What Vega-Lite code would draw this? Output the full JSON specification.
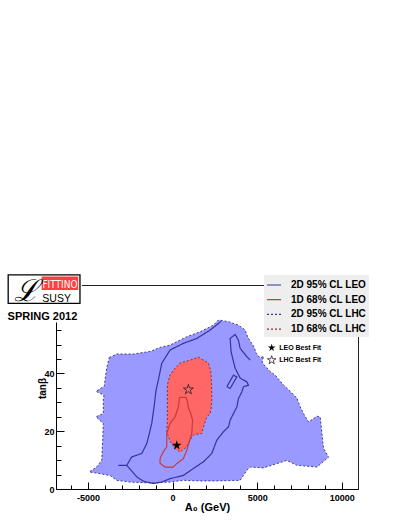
{
  "$schema": "https://vega.github.io/schema/vega-lite/v6.json",
  "width": 302,
  "height": 204,
  "autosize": {"type": "none"},
  "padding": {"left": 56, "top": 285, "right": 49, "bottom": 38},
  "background": "white",
  "config": {"view": {"stroke": "#222", "strokeWidth": 1}, "font": "Liberation Sans", "axis": {"labelOverlap": false, "labelFlush": false, "grid": false}},
  "data": {"values": [{}]},
  "resolve": {"axis": {"x": "independent", "y": "independent"}},
  "datasets": {
    "lhc95": [
      {"i":1,"x":-3740,"y":45.5},{"i":2,"x":-3302,"y":46.7},{"i":3,"x":-2319,"y":46.7},{"i":4,"x":-1331,"y":47.6},
      {"i":5,"x":-740,"y":49.0},{"i":6,"x":-148,"y":49.8},{"i":7,"x":840,"y":52.7},{"i":8,"x":1627,"y":54.4},
      {"i":9,"x":2414,"y":56.7},{"i":10,"x":2710,"y":58.5},{"i":11,"x":3302,"y":57.9},{"i":12,"x":3893,"y":56.7},
      {"i":13,"x":4290,"y":55.0},{"i":14,"x":4438,"y":52.6},{"i":15,"x":4586,"y":51.2},{"i":16,"x":4822,"y":49.1},
      {"i":17,"x":4941,"y":47.0},{"i":18,"x":5177,"y":45.3},{"i":19,"x":5373,"y":46.0},{"i":20,"x":5296,"y":43.9},
      {"i":21,"x":5473,"y":42.5},{"i":22,"x":5769,"y":40.7},{"i":23,"x":6065,"y":39.4},{"i":24,"x":6556,"y":36.0},
      {"i":25,"x":6952,"y":33.8},{"i":26,"x":7349,"y":31.4},{"i":27,"x":7544,"y":28.4},{"i":28,"x":7739,"y":26.1},
      {"i":29,"x":8035,"y":23.2},{"i":30,"x":8532,"y":25.2},{"i":31,"x":8728,"y":24.9},{"i":32,"x":8828,"y":19.2},
      {"i":33,"x":8923,"y":14.1},{"i":34,"x":9219,"y":11.0},{"i":35,"x":8532,"y":7.6},{"i":36,"x":7349,"y":8.2},
      {"i":37,"x":6757,"y":9.9},{"i":38,"x":6166,"y":8.8},{"i":39,"x":5373,"y":7.3},{"i":40,"x":4586,"y":7.6},
      {"i":41,"x":4390,"y":6.5},{"i":42,"x":3994,"y":3.0},{"i":43,"x":2615,"y":2.8},{"i":44,"x":1627,"y":2.8},
      {"i":45,"x":639,"y":3.0},{"i":46,"x":-148,"y":2.4},{"i":47,"x":-1331,"y":2.1},{"i":48,"x":-2515,"y":2.4},
      {"i":49,"x":-3302,"y":3.0},{"i":50,"x":-3698,"y":4.7},{"i":51,"x":-4485,"y":5.5},{"i":52,"x":-4923,"y":5.9},
      {"i":53,"x":-4485,"y":7.6},{"i":54,"x":-4189,"y":9.9},{"i":55,"x":-4130,"y":16.9},{"i":56,"x":-4095,"y":22.7},
      {"i":57,"x":-4527,"y":25.0},{"i":58,"x":-4095,"y":26.1},{"i":59,"x":-4095,"y":30.7},{"i":60,"x":-4053,"y":32.5},
      {"i":61,"x":-4527,"y":33.8},{"i":62,"x":-4035,"y":35.6},{"i":63,"x":-3994,"y":37.7},{"i":64,"x":-3893,"y":41.8},
      {"i":65,"x":-3740,"y":45.5}
    ],
    "lhc68": [
      {"i":1,"x":1527,"y":45.6},{"i":2,"x":2118,"y":43.6},{"i":3,"x":2260,"y":40.7},{"i":4,"x":2308,"y":35.9},
      {"i":5,"x":2320,"y":30.7},{"i":6,"x":2278,"y":28.0},{"i":7,"x":2219,"y":26.1},{"i":8,"x":2024,"y":24.9},
      {"i":9,"x":1822,"y":21.5},{"i":10,"x":1728,"y":19.2},{"i":11,"x":1272,"y":18.8},{"i":12,"x":1136,"y":18.0},
      {"i":13,"x":840,"y":14.6},{"i":14,"x":444,"y":12.8},{"i":15,"x":148,"y":14.0},{"i":16,"x":-148,"y":16.5},
      {"i":17,"x":-343,"y":19.8},{"i":18,"x":-308,"y":23.8},{"i":19,"x":-308,"y":30.7},{"i":20,"x":-308,"y":36.0},
      {"i":21,"x":-148,"y":39.5},{"i":22,"x":148,"y":41.8},{"i":23,"x":444,"y":43.6},{"i":24,"x":1036,"y":44.6},
      {"i":25,"x":1527,"y":45.6}
    ],
    "leo68": [
      {"i":1,"x":402,"y":31.7},{"i":2,"x":799,"y":31.7},{"i":3,"x":888,"y":30.0},{"i":4,"x":935,"y":28.0},
      {"i":5,"x":1036,"y":26.9},{"i":6,"x":1183,"y":23.8},{"i":7,"x":1136,"y":19.2},{"i":8,"x":976,"y":16.2},
      {"i":9,"x":840,"y":13.4},{"i":10,"x":639,"y":10.5},{"i":11,"x":207,"y":8.6},{"i":12,"x":47,"y":7.6},
      {"i":13,"x":-444,"y":7.6},{"i":14,"x":-740,"y":8.9},{"i":15,"x":-740,"y":10.5},{"i":16,"x":-562,"y":12.7},
      {"i":17,"x":-343,"y":14.6},{"i":18,"x":-343,"y":19.2},{"i":19,"x":-148,"y":22.7},{"i":20,"x":148,"y":25.0},
      {"i":21,"x":343,"y":28.4},{"i":22,"x":385,"y":30.7},{"i":23,"x":402,"y":31.7}
    ],
    "leo95": [
      {"seg":"a","i":1,"x":-3207,"y":8.2},{"seg":"a","i":2,"x":-2710,"y":8.2},{"seg":"a","i":3,"x":-2414,"y":11.1},
      {"seg":"a","i":4,"x":-1822,"y":12.3},{"seg":"a","i":5,"x":-1527,"y":15.7},{"seg":"a","i":6,"x":-1373,"y":19.2},
      {"seg":"a","i":7,"x":-1231,"y":22.7},{"seg":"a","i":8,"x":-1095,"y":28.4},{"seg":"a","i":9,"x":-976,"y":34.2},
      {"seg":"a","i":10,"x":-840,"y":37.7},{"seg":"a","i":11,"x":-639,"y":43.5},{"seg":"a","i":12,"x":-148,"y":48.1},
      {"seg":"a","i":13,"x":639,"y":50.4},{"seg":"a","i":14,"x":1432,"y":52.1},{"seg":"a","i":15,"x":2219,"y":55.0},
      {"seg":"a","i":16,"x":2710,"y":57.3},{"seg":"a","i":17,"x":2870,"y":58.0},
      {"seg":"b","i":1,"x":4586,"y":44.6},{"seg":"b","i":2,"x":4390,"y":45.8},{"seg":"b","i":3,"x":3994,"y":48.7},
      {"seg":"b","i":4,"x":3893,"y":51.5},{"seg":"b","i":5,"x":3698,"y":53.5},{"seg":"b","i":6,"x":3402,"y":52.1},
      {"seg":"b","i":7,"x":3461,"y":47.4},{"seg":"b","i":8,"x":3698,"y":41.8},{"seg":"b","i":9,"x":3994,"y":38.4},
      {"seg":"b","i":10,"x":4390,"y":37.1},{"seg":"b","i":11,"x":4485,"y":35.9},{"seg":"b","i":12,"x":4189,"y":35.4},
      {"seg":"b","i":13,"x":4095,"y":33.6},{"seg":"b","i":14,"x":3893,"y":31.3},{"seg":"b","i":15,"x":3799,"y":28.4},
      {"seg":"b","i":16,"x":3598,"y":26.1},{"seg":"b","i":17,"x":3402,"y":23.8},{"seg":"b","i":18,"x":3302,"y":21.5},
      {"seg":"b","i":19,"x":3006,"y":19.8},{"seg":"b","i":20,"x":2615,"y":16.9},{"seg":"b","i":21,"x":2319,"y":12.3},
      {"seg":"b","i":22,"x":1822,"y":9.4},{"seg":"b","i":23,"x":1231,"y":7.1},{"seg":"b","i":24,"x":639,"y":4.7},
      {"seg":"b","i":25,"x":-148,"y":3.6},{"seg":"b","i":26,"x":-639,"y":2.4},{"seg":"b","i":27,"x":-1136,"y":1.9},
      {"seg":"b","i":28,"x":-1728,"y":2.7},{"seg":"b","i":29,"x":-2118,"y":4.2},{"seg":"b","i":30,"x":-2710,"y":8.2},
      {"seg":"c","i":1,"x":3207,"y":35.4},{"seg":"c","i":2,"x":3598,"y":39.4},{"seg":"c","i":3,"x":3799,"y":38.8},
      {"seg":"c","i":4,"x":3402,"y":34.8},{"seg":"c","i":5,"x":3207,"y":35.4}
    ],
    "bestfit": [
      {"fit":"LEO","x":248,"y":15.1},
      {"fit":"LHC","x":935,"y":34.4}
    ]
  },
  "layer": [
    {
      "data": {"name": "lhc95"},
      "mark": {"type": "line", "fill": "#9999ff", "strokeWidth": 1},
      "encoding": {
        "x": {
          "field": "x", "type": "quantitative",
          "scale": {"domain": [-6890, 10960], "nice": false, "zero": false},
          "axis": {
            "orient": "bottom",
            "values": [-5000, 0, 5000, 10000],
            "tickSize": -7,
            "labelExpr": "'' + datum.value",
            "labelFont": "Liberation Sans", "labelFontWeight": "bold", "labelFontSize": 9, "labelColor": "#000",
            "labelPadding": 11, "labelOverlap": false, "labelFlush": false,
            "domainColor": "#000", "tickColor": "#000", "grid": false,
            "title": "A₀ (GeV)", "titleFont": "Liberation Sans, DejaVu Sans", "titleFontSize": 11, "titleFontWeight": "bold", "titleColor": "#000",
            "titleY": 12, "titleBaseline": "top"
          }
        },
        "y": {
          "field": "y", "type": "quantitative",
          "scale": {"domain": [0, 70.6], "nice": false, "zero": false},
          "axis": {
            "orient": "left",
            "values": [0, 20, 40, 60],
            "tickSize": -8,
            "labelExpr": "datum.value <= 40 ? '' + datum.value : ''",
            "labelFont": "Liberation Sans", "labelFontWeight": "bold", "labelFontSize": 9, "labelColor": "#000",
            "labelPadding": 10, "labelOverlap": false, "labelFlush": false,
            "domainColor": "#000", "tickColor": "#000", "grid": false,
            "title": "tanβ", "titleFont": "Liberation Sans, DejaVu Sans", "titleFontSize": 10, "titleFontWeight": "bold", "titleColor": "#000",
            "titleX": -9, "titleY": 103
          }
        },
        "order": {"field": "i", "type": "quantitative"},
        "color": {
          "datum": "2D 95% CL LHC",
          "scale": {
            "domain": ["2D 95% CL LEO", "1D 68% CL LEO", "2D 95% CL LHC", "1D 68% CL LHC"],
            "range": ["#34349a", "#c43c3c", "#3a3a8c", "#8a3030"]
          },
          "legend": {
            "title": null, "orient": "none", "legendX": 208, "legendY": -10,
            "fillColor": "#eeeeee", "padding": 2, "symbolType": "stroke", "symbolSize": 196, "symbolStrokeWidth": 1.2,
            "rowPadding": 1.7, "labelOffset": 9, "labelFont": "Liberation Sans", "labelFontWeight": "bold", "labelFontSize": 10, "labelColor": "#000"
          }
        },
        "strokeDash": {
          "datum": "2D 95% CL LHC",
          "scale": {
            "domain": ["2D 95% CL LEO", "1D 68% CL LEO", "2D 95% CL LHC", "1D 68% CL LHC"],
            "range": [[1, 0], [1, 0], [2, 2], [2, 2]]
          },
          "legend": {
            "title": null, "orient": "none", "legendX": 208, "legendY": -10,
            "fillColor": "#eeeeee", "padding": 2, "symbolType": "stroke", "symbolSize": 196, "symbolStrokeWidth": 1.2,
            "rowPadding": 1.7, "labelOffset": 9, "labelFont": "Liberation Sans", "labelFontWeight": "bold", "labelFontSize": 10, "labelColor": "#000"
          }
        }
      }
    },
    {
      "data": {"name": "lhc68"},
      "mark": {"type": "line", "fill": "#ff6666", "strokeWidth": 1},
      "encoding": {
        "x": {
          "field": "x", "type": "quantitative",
          "axis": {
            "orient": "bottom",
            "values": [-6000,-4000,-3000,-2000,-1000,1000,2000,3000,4000,6000,7000,8000,9000],
            "tickSize": -4, "labels": false, "domain": false, "title": null, "tickColor": "#000", "grid": false
          }
        },
        "y": {
          "field": "y", "type": "quantitative",
          "axis": {
            "orient": "left",
            "values": [5,10,15,25,30,35,45,50,55,65,70],
            "tickSize": -5, "labels": false, "domain": false, "title": null, "tickColor": "#000", "grid": false
          }
        },
        "order": {"field": "i", "type": "quantitative"},
        "color": {"datum": "1D 68% CL LHC"},
        "strokeDash": {"datum": "1D 68% CL LHC"}
      }
    },
    {
      "data": {"name": "leo95"},
      "mark": {"type": "line", "strokeWidth": 1.2},
      "encoding": {
        "x": {"field": "x", "type": "quantitative", "axis": null},
        "y": {"field": "y", "type": "quantitative", "axis": null},
        "order": {"field": "i", "type": "quantitative"},
        "detail": {"field": "seg"},
        "color": {"datum": "2D 95% CL LEO"},
        "strokeDash": {"datum": "2D 95% CL LEO"}
      }
    },
    {
      "data": {"name": "leo68"},
      "mark": {"type": "line", "strokeWidth": 1.2},
      "encoding": {
        "x": {"field": "x", "type": "quantitative", "axis": null},
        "y": {"field": "y", "type": "quantitative", "axis": null},
        "order": {"field": "i", "type": "quantitative"},
        "color": {"datum": "1D 68% CL LEO"},
        "strokeDash": {"datum": "1D 68% CL LEO"}
      }
    },
    {
      "data": {"name": "bestfit"},
      "transform": [{"filter": "datum.fit === 'LEO'"}],
      "mark": {"type": "point", "shape": "M0,-1L0.2245,-0.309L0.9511,-0.309L0.3633,0.118L0.5878,0.809L0,0.382L-0.5878,0.809L-0.3633,0.118L-0.9511,-0.309L-0.2245,-0.309Z", "size": 100, "filled": true, "color": "#000", "opacity": 1},
      "encoding": {
        "x": {"field": "x", "type": "quantitative", "axis": null},
        "y": {"field": "y", "type": "quantitative", "axis": null}
      }
    },
    {
      "data": {"name": "bestfit"},
      "transform": [{"filter": "datum.fit === 'LHC'"}],
      "mark": {"type": "point", "shape": "M0,-1L0.2245,-0.309L0.9511,-0.309L0.3633,0.118L0.5878,0.809L0,0.382L-0.5878,0.809L-0.3633,0.118L-0.9511,-0.309L-0.2245,-0.309Z", "size": 110, "filled": false, "stroke": "#222", "strokeWidth": 0.8, "opacity": 1},
      "encoding": {
        "x": {"field": "x", "type": "quantitative", "axis": null},
        "y": {"field": "y", "type": "quantitative", "axis": null}
      }
    },
    {
      "mark": {"type": "point", "shape": "M0,-1L0.2245,-0.309L0.9511,-0.309L0.3633,0.118L0.5878,0.809L0,0.382L-0.5878,0.809L-0.3633,0.118L-0.9511,-0.309L-0.2245,-0.309Z", "size": 64, "filled": true, "color": "#000", "opacity": 1},
      "encoding": {
        "x": {"datum": 5858, "type": "quantitative", "axis": null},
        "y": {"datum": 48.9, "type": "quantitative", "axis": null}
      }
    },
    {
      "mark": {"type": "point", "shape": "M0,-1L0.2245,-0.309L0.9511,-0.309L0.3633,0.118L0.5878,0.809L0,0.382L-0.5878,0.809L-0.3633,0.118L-0.9511,-0.309L-0.2245,-0.309Z", "size": 80, "filled": false, "stroke": "#222", "strokeWidth": 0.8, "opacity": 1},
      "encoding": {
        "x": {"datum": 5858, "type": "quantitative", "axis": null},
        "y": {"datum": 44.6, "type": "quantitative", "axis": null}
      }
    },
    {
      "mark": {"type": "text", "text": "LEO Best Fit", "align": "left", "baseline": "middle", "font": "Liberation Sans", "fontWeight": "bold", "fontSize": 7, "color": "#000"},
      "encoding": {
        "x": {"datum": 6302, "type": "quantitative", "axis": null},
        "y": {"datum": 48.9, "type": "quantitative", "axis": null}
      }
    },
    {
      "mark": {"type": "text", "text": "LHC Best Fit", "align": "left", "baseline": "middle", "font": "Liberation Sans", "fontWeight": "bold", "fontSize": 7, "color": "#000"},
      "encoding": {
        "x": {"datum": 6302, "type": "quantitative", "axis": null},
        "y": {"datum": 44.6, "type": "quantitative", "axis": null}
      }
    },
    {
      "mark": {"type": "rect", "fill": "white", "stroke": null},
      "encoding": {
        "x": {"datum": -10500, "type": "quantitative", "axis": null},
        "x2": {"datum": -5355},
        "y": {"datum": 76.5, "type": "quantitative", "axis": null},
        "y2": {"datum": 57.6}
      }
    },
    {
      "mark": {"type": "rect", "fill": "white", "stroke": "#000", "strokeWidth": 1.3},
      "encoding": {
        "x": {"datum": -9716, "type": "quantitative", "axis": null},
        "x2": {"datum": -5473},
        "y": {"datum": 74.07, "type": "quantitative", "axis": null},
        "y2": {"datum": 64.26}
      }
    },
    {
      "mark": {"type": "rect", "fill": "#ff4040", "stroke": null},
      "encoding": {
        "x": {"datum": -7739, "type": "quantitative", "axis": null},
        "x2": {"datum": -5574},
        "y": {"datum": 73.5, "type": "quantitative", "axis": null},
        "y2": {"datum": 68.9}
      }
    },
    {
      "mark": {"type": "text", "text": "FITTINO", "align": "center", "baseline": "alphabetic", "font": "Liberation Sans Narrow, DejaVu Sans Condensed, Liberation Sans", "fontSize": 10, "color": "white"},
      "encoding": {
        "x": {"datum": -6657, "type": "quantitative", "axis": null},
        "y": {"datum": 69.7, "type": "quantitative", "axis": null}
      }
    },
    {
      "mark": {"type": "text", "text": "ℒ", "align": "center", "baseline": "alphabetic", "font": "DejaVu Serif", "fontStyle": "italic", "fontSize": 30, "color": "#000"},
      "encoding": {
        "x": {"datum": -8609, "type": "quantitative", "axis": null},
        "y": {"datum": 65.06, "type": "quantitative", "axis": null}
      }
    },
    {
      "mark": {"type": "text", "text": "SUSY", "align": "center", "baseline": "alphabetic", "font": "Liberation Sans", "fontSize": 10.5, "color": "#000"},
      "encoding": {
        "x": {"datum": -6852, "type": "quantitative", "axis": null},
        "y": {"datum": 64.6, "type": "quantitative", "axis": null}
      }
    },
    {
      "mark": {"type": "text", "text": "SPRING 2012", "align": "center", "baseline": "alphabetic", "font": "Liberation Sans", "fontWeight": "bold", "fontSize": 11, "color": "#000"},
      "encoding": {
        "x": {"datum": -7692, "type": "quantitative", "axis": null},
        "y": {"datum": 58.47, "type": "quantitative", "axis": null}
      }
    }
  ]
}
